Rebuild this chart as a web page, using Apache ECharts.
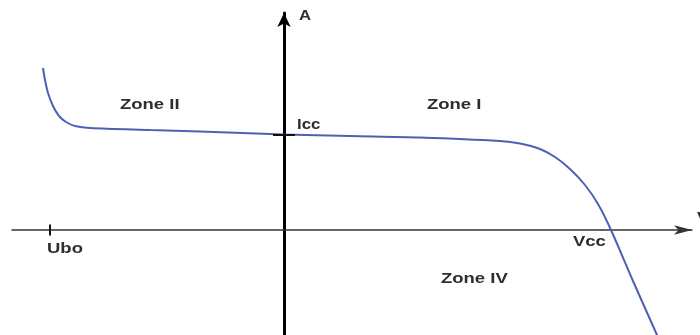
<!DOCTYPE html>
<html>
<head>
<meta charset="utf-8">
<script src="https://cdn.jsdelivr.net/npm/echarts@6/dist/echarts.min.js"></script>
<style>
  html, body { margin: 0; padding: 0; background: #fff; }
  #chart { width: 700px; height: 335px; }
</style>
</head>
<body>
<div id="chart"></div>
<script>
// I–V characteristic of a photovoltaic cell (schematic units)
var voltage = [-24.1, -23.9, -23.6, -23.1, -22.5, -21.8, -20.9, -19.4, -13.4, -8.4, 0, 6.6, 13.6, 21.6, 23.6, 25.6, 27.1, 28.6, 30.1, 31.4, 32.7, 34.9, 37.3, 37.6];
var current = [16.2, 15.0, 13.7, 12.4, 11.4, 10.8, 10.4, 10.2, 10.0, 9.85, 9.55, 9.4, 9.25, 8.9, 8.65, 8.1, 7.3, 6.1, 4.5, 2.6, 0, -5.1, -10.5, -11.2];

// Characteristic points
var Icc = 9.55;   // short-circuit current
var Vcc = 32.7;   // open-circuit voltage
var Ubo = -23.4;  // breakdown voltage

var zoneLabels = ['Zone II', 'Zone I', 'Zone IV'];

var chart = echarts.init(document.getElementById('chart'));

var curve = voltage.map(function (v, i) { return [v, current[i]]; });

var FONT = 'Liberation Sans, Arial, sans-serif';
var TXT = '#2e2e2e';

chart.setOption({
  animation: false,
  grid: { left: 12, right: 8, top: 13, bottom: 0 },
  xAxis: {
    type: 'value',
    min: -27.2, max: 40.8,
    axisLine: {
      onZero: true,
      symbol: ['none', 'arrow'],
      symbolSize: [7, 18],
      lineStyle: { color: '#333', width: 1.5 }
    },
    axisTick: { show: false },
    axisLabel: { show: false },
    splitLine: { show: false }
  },
  yAxis: {
    type: 'value',
    min: -10.5, max: 21.7,
    axisLine: {
      onZero: true,
      symbol: ['none', 'arrow'],
      symbolSize: [10, 14],
      lineStyle: { color: '#000', width: 3 }
    },
    axisTick: { show: false },
    axisLabel: { show: false },
    splitLine: { show: false }
  },
  series: [
    {
      type: 'line',
      data: curve,
      smooth: 0.3,
      showSymbol: false,
      clip: true,
      lineStyle: { color: '#5060b0', width: 2 },
      z: 3
    },
    {
      // tick marks for Icc and Ubo
      type: 'line',
      data: [],
      markLine: {
        silent: true,
        symbol: ['none', 'none'],
        label: { show: false },
        lineStyle: { color: '#111', width: 2, type: 'solid' },
        data: [
          [{ coord: [-1.1, Icc] }, { coord: [1.1, Icc] }],
          [{ coord: [Ubo, -0.55] }, { coord: [Ubo, 0.55] }]
        ]
      }
    }
  ]
});

function px(x, y) { return chart.convertToPixel({ gridIndex: 0 }, [x, y]); }

function text(str, x, y, sx) {
  return {
    type: 'text',
    x: x, y: y,
    scaleX: sx || 1.32,
    style: {
      text: str,
      font: 'bold 14px ' + FONT,
      fill: TXT,
      align: 'left',
      verticalAlign: 'middle'
    }
  };
}

var pIcc = px(0, Icc);
var pVcc = px(Vcc, 0);
var pUbo = px(Ubo, 0);
var pTop = px(0, 21.7);
var pEnd = px(40.8, 0);

chart.setOption({
  graphic: [
    text(zoneLabels[0], 120, 105),
    text(zoneLabels[1], 427, 105),
    text(zoneLabels[2], 441, 279),
    text('Icc', pIcc[0] + 13, pIcc[1] - 9, 1.2),
    text('Vcc', pVcc[0] - 38, pVcc[1] + 12),
    text('Ubo', pUbo[0] - 3, pUbo[1] + 19),
    text('A', pTop[0] + 15, pTop[1] + 3, 1.2),
    text('V', pEnd[0] + 5, pEnd[1] - 12, 1.2)
  ]
});
</script>
</body>
</html>
